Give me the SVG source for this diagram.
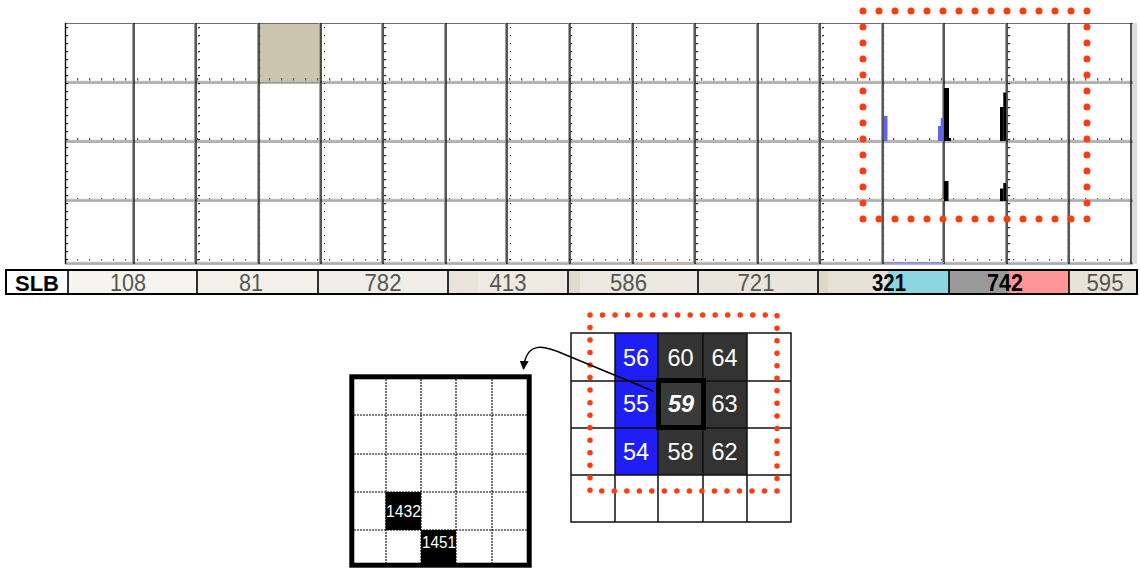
<svg xmlns="http://www.w3.org/2000/svg" width="1140" height="568" viewBox="0 0 1140 568">
<style>
.gb{stroke:#6e6e6e;stroke-width:1.2;fill:none}
.ga{stroke:#bdbdbd;stroke-width:1.6;fill:none}
.ax{stroke:#111;stroke-width:1.4;fill:none}
.rb{stroke:#a0a0a0;stroke-width:1;fill:none}
.slbn{font-family:"Liberation Sans",Arial,sans-serif;font-size:23px;fill:#555;text-anchor:middle}
.slbb{font-family:"Liberation Sans",Arial,sans-serif;font-size:23px;font-weight:bold;fill:#000;text-anchor:middle}
.num{font-family:"Liberation Sans",Arial,sans-serif;font-size:23.5px;fill:#fff;text-anchor:middle}
.sm{font-family:"Liberation Sans",Arial,sans-serif;font-size:17px;fill:#fff}
.gl{stroke:#111;stroke-width:1.5;fill:none}
.dl{stroke:#000;stroke-width:1.1;stroke-dasharray:2 1;fill:none}
.red1{fill:none;stroke:#ff3b12;stroke-width:7;stroke-linecap:round;stroke-dasharray:0 16}
.red2{fill:none;stroke:#ff3b12;stroke-width:5.5;stroke-linecap:round;stroke-dasharray:0 12.517}
.conn{fill:none;stroke:#000;stroke-width:1.5}
</style>
<defs>
<pattern id="lt" width="6" height="8" patternUnits="userSpaceOnUse"><rect x="0" y="3" width="2.2" height="1.2" fill="#222"/></pattern>
<pattern id="bt" width="12" height="6" patternUnits="userSpaceOnUse"><rect x="5" y="0" width="1.2" height="2.5" fill="#555"/></pattern>
<marker id="ah" viewBox="0 0 10 10" refX="9" refY="5" markerWidth="9" markerHeight="10" markerUnits="userSpaceOnUse" orient="auto"><path d="M0,0 L10,5 L0,10 z" fill="#000"/></marker>
</defs>
<rect width="1140" height="568" fill="#fff"/>

<g id="plot-grid">
<rect x="259" y="23" width="62" height="60" fill="#cbc5ad"/>
<rect x="1132" y="23" width="5" height="241" fill="#dcdcdc"/>
<path class="ga" d="M65,81.5H1133M65,140.5H1133M65,199.5H1133M65,262.5H1133"/>
<rect x="65" y="78" width="1068" height="3" fill="url(#bt)"/>
<rect x="65" y="137" width="1068" height="3" fill="url(#bt)"/>
<rect x="65" y="196" width="1068" height="3" fill="url(#bt)"/>
<rect x="65" y="259" width="1068" height="3" fill="url(#bt)"/>
<path class="gb" d="M65,23.5H1133M65,83H1133M65,142H1133M65,201H1133M65,264H1133"/>
<path class="rb" d="M132.5,23V264M194.5,23V264M257.5,23V264M319.5,23V264M381.5,23V264M444.5,23V264M505.5,23V264M568.5,23V264M631.5,23V264M693.5,23V264M756.5,23V264M818.5,23V264M881.5,23V264M942.5,23V264M1005.5,23V264M1067.5,23V264"/>
<path class="ax" d="M65.5,23V264M134,23V264M196,23V264M259,23V264M321,23V264M383,23V264M446,23V264M507,23V264M570,23V264M633,23V264M695,23V264M758,23V264M820,23V264M883,23V264M944,23V264M1007,23V264M1069,23V264M1131,23V264"/>
<g fill="url(#lt)">
<rect x="66" y="23" width="3" height="241"/><rect x="135" y="23" width="3" height="241"/><rect x="197" y="23" width="3" height="241"/><rect x="260" y="23" width="3" height="241"/><rect x="322" y="23" width="3" height="241"/><rect x="384" y="23" width="3" height="241"/><rect x="447" y="23" width="3" height="241"/><rect x="508" y="23" width="3" height="241"/><rect x="571" y="23" width="3" height="241"/><rect x="634" y="23" width="3" height="241"/><rect x="696" y="23" width="3" height="241"/><rect x="759" y="23" width="3" height="241"/><rect x="821" y="23" width="3" height="241"/><rect x="884" y="23" width="3" height="241"/><rect x="945" y="23" width="3" height="241"/><rect x="1008" y="23" width="3" height="241"/><rect x="1070" y="23" width="3" height="241"/>
</g>
<rect x="634" y="262" width="60" height="2" fill="#c4b5a5"/>
<rect x="884" y="262" width="60" height="1.5" fill="#8c8ce0"/>
</g>

<g id="histograms">
<rect x="884" y="116" width="3.5" height="25" fill="#6464e6"/>
<rect x="938" y="126" width="3" height="15" fill="#6464e6"/>
<rect x="940.7" y="118" width="3" height="23" fill="#6464e6"/>
<rect x="944" y="88" width="5" height="53" fill="#000"/>
<rect x="948.5" y="138" width="2.5" height="3" fill="#000"/>
<rect x="1000" y="107" width="3.5" height="34" fill="#000"/>
<rect x="1003.3" y="92.5" width="2.8" height="48.5" fill="#000"/>
<rect x="944" y="181" width="4.5" height="20" fill="#000"/>
<rect x="1000" y="188.5" width="3.3" height="12.5" fill="#000"/>
<rect x="1003.3" y="183" width="2.8" height="18" fill="#000"/>
<rect x="884" y="199" width="3" height="2" fill="#b8a594"/>
<rect x="938" y="199" width="6" height="2" fill="#b8a594"/>
</g>

<g id="highlight-top">
<rect class="red1" x="863" y="11" width="224" height="208"/>
</g>

<g id="slb-row">
<rect x="68" y="270" width="129" height="24" fill="#f6f4ef"/>
<rect x="197" y="270" width="121" height="24" fill="#f3f0ea"/>
<rect x="318" y="270" width="130" height="24" fill="#f1eee7"/>
<rect x="448" y="270" width="120" height="24" fill="#eee9e1"/>
<rect x="448" y="270" width="30" height="24" fill="#e9e3d9"/>
<rect x="568" y="270" width="130" height="24" fill="#ede9e0"/>
<rect x="568" y="270" width="12" height="24" fill="#e1dbcf"/>
<rect x="698" y="270" width="120" height="24" fill="#e9e5dc"/>
<rect x="818" y="270" width="70" height="24" fill="#e6e1d4"/>
<rect x="818" y="270" width="10" height="24" fill="#ded8c7"/>
<rect x="888" y="270" width="61" height="24" fill="#8bd6e0"/>
<rect x="949" y="270" width="60" height="24" fill="#9a9a9a"/>
<rect x="1009" y="270" width="60" height="24" fill="#ff9696"/>
<rect x="1069" y="270" width="68" height="24" fill="#e8e3d8"/>
<rect x="6" y="270" width="1131" height="24" fill="none" stroke="#000" stroke-width="2"/>
<path d="M68,270V294M197,270V294M318,270V294M448,270V294M568,270V294M698,270V294M818,270V294M949,270V294M1069,270V294" stroke="#000" stroke-width="1.6"/>
<text x="37" y="291" font-family="'Liberation Sans',Arial,sans-serif" font-size="22" font-weight="bold" text-anchor="middle">SLB</text>
<text class="slbn" x="128" y="291" textLength="36" lengthAdjust="spacingAndGlyphs">108</text>
<text class="slbn" x="251" y="291" textLength="24" lengthAdjust="spacingAndGlyphs">81</text>
<text class="slbn" x="383" y="291" textLength="37" lengthAdjust="spacingAndGlyphs">782</text>
<text class="slbn" x="508" y="291" textLength="37" lengthAdjust="spacingAndGlyphs">413</text>
<text class="slbn" x="628.5" y="291" textLength="37" lengthAdjust="spacingAndGlyphs">586</text>
<text class="slbn" x="756" y="291" textLength="37" lengthAdjust="spacingAndGlyphs">721</text>
<text class="slbb" x="889" y="291" textLength="34" lengthAdjust="spacingAndGlyphs">321</text>
<text class="slbb" x="1005" y="291" textLength="36" lengthAdjust="spacingAndGlyphs">742</text>
<text class="slbn" x="1105" y="291" textLength="37" lengthAdjust="spacingAndGlyphs">595</text>
</g>

<g id="zoom-grid">
<rect x="354" y="379" width="173" height="186" fill="#fff"/>
<rect x="385.5" y="492" width="35.5" height="38" fill="#000"/>
<rect x="421" y="530" width="35" height="35" fill="#000"/>
<path class="dl" d="M386,379V565M421,379V565M456,379V565M492,379V565M354,415H527M354,454H527M354,492H527M354,530H527"/>
<text class="sm" x="386" y="517" textLength="35" lengthAdjust="spacingAndGlyphs">1432</text>
<text class="sm" x="422" y="548" textLength="34" lengthAdjust="spacingAndGlyphs">1451</text>
<rect x="351.8" y="376.8" width="177.4" height="188.4" fill="none" stroke="#000" stroke-width="5"/>
</g>

<g id="pixel-grid">
<rect x="571" y="333" width="220" height="189" fill="#fff"/>
<rect x="615" y="333" width="43" height="142" fill="#1f1ff5"/>
<rect x="658" y="333" width="89" height="142" fill="#333"/>
<rect x="658" y="380" width="46" height="48" fill="#3a3a3a"/>
<path class="gl" d="M615,333V522M658,333V522M703,333V522M747,333V522M571,381H791M571,428H791M571,475H791"/>
<rect class="gl" x="571" y="333" width="220" height="189"/>
<rect x="658.5" y="380.5" width="45" height="47" fill="none" stroke="#000" stroke-width="5"/>
<text class="num" x="636" y="366">56</text>
<text class="num" x="680.5" y="366">60</text>
<text class="num" x="724.5" y="366">64</text>
<text class="num" x="636" y="412">55</text>
<text class="num" x="681" y="412" font-weight="bold" font-style="italic">59</text>
<text class="num" x="724.5" y="412">63</text>
<text class="num" x="636" y="460">54</text>
<text class="num" x="680.5" y="460">58</text>
<text class="num" x="724.5" y="460">62</text>
</g>

<g id="highlight-bottom">
<rect class="red2" x="590" y="315" width="187" height="176"/>
</g>

<g id="connectors">
<path class="conn" d="M653,391 L566,355 C546,346 526,339 523.5,369" marker-end="url(#ah)"/>
</g>
</svg>
